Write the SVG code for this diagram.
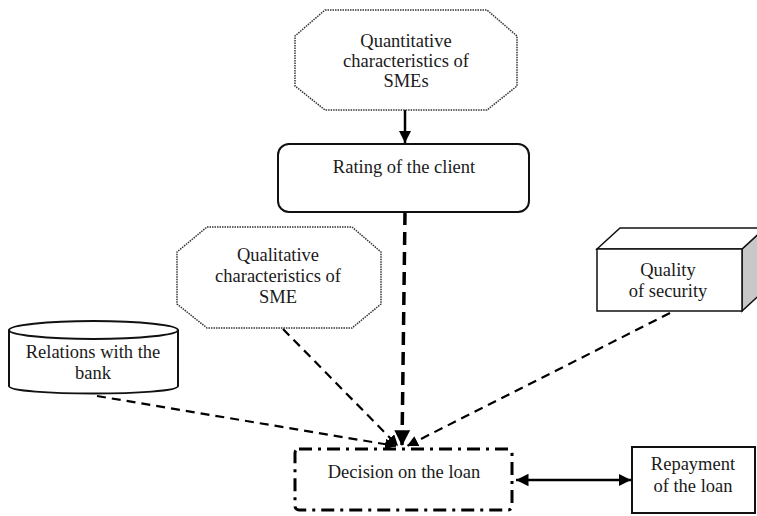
<svg xmlns="http://www.w3.org/2000/svg" width="757" height="516" viewBox="0 0 757 516">
<style>
text{font-family:"Liberation Serif","Times New Roman",serif;font-size:18.5px;fill:#1a1a1a;text-anchor:middle}
.oct{fill:#fff;stroke:#333;stroke-width:1.5;stroke-dasharray:1.5 1}
.box{fill:#fff;stroke:#111;stroke-width:2}
.dash{fill:none;stroke:#000;stroke-width:2.2;stroke-dasharray:9 6}
.thick{fill:none;stroke:#000;stroke-width:3.5;stroke-dasharray:13 7}
.solid{fill:none;stroke:#000;stroke-width:2.5}
</style>
<defs>
<marker id="ah" viewBox="0 0 10 10" refX="10" refY="5" markerWidth="5" markerHeight="5" markerUnits="strokeWidth" orient="auto-start-reverse">
<path d="M0,0 L10,5 L0,10 z" fill="#000"/>
</marker>
<marker id="ahs" viewBox="0 0 10 10" refX="10" refY="5" markerWidth="4.5" markerHeight="4.5" markerUnits="strokeWidth" orient="auto-start-reverse">
<path d="M0,0 L10,5 L0,10 z" fill="#000"/>
</marker>
</defs>
<rect width="757" height="516" fill="#fff"/>

<g id="connectors">
<line class="solid" x1="405" y1="110" x2="405" y2="143" marker-end="url(#ah)"/>
<line class="thick" x1="405" y1="212" x2="402" y2="446" marker-end="url(#ahs)"/>
<line class="dash" x1="97" y1="396" x2="396" y2="446" marker-end="url(#ah)"/>
<line class="dash" x1="283" y1="329" x2="398" y2="446" marker-end="url(#ah)"/>
<line class="dash" x1="670" y1="313" x2="407" y2="446" marker-end="url(#ah)"/>
<line class="solid" x1="516" y1="480" x2="631" y2="480" marker-start="url(#ah)" marker-end="url(#ah)"/>
</g>

<g id="quantitative">
<polygon class="oct" points="325,10 487,10 517,36 517,86 487,110 325,110 295,86 295,36"/>
<text x="406" y="47">Quantitative</text>
<text x="406" y="67">characteristics of</text>
<text x="406" y="87">SMEs</text>
</g>

<g id="rating">
<rect class="box" x="278" y="144" width="251" height="68" rx="11"/>
<text x="404" y="173">Rating of the client</text>
</g>

<g id="qualitative">
<polygon class="oct" points="207,227 352,227 381,252 381,304 352,328 207,328 177,304 177,252"/>
<text x="278" y="261">Qualitative</text>
<text x="278" y="282">characteristics of</text>
<text x="278" y="303">SME</text>
</g>

<g id="relations">
<path class="box" d="M9,330 L9,386 C9,396 178,396 178,386 L178,330"/>
<ellipse class="box" cx="93.5" cy="330" rx="84.5" ry="9"/>
<text x="93" y="358">Relations with the</text>
<text x="93" y="379">bank</text>
</g>

<g id="quality">
<polygon points="742,249 765,228 765,290 742,311" fill="#c8c8c8" stroke="#111" stroke-width="1.5"/>
<polygon points="597,249 620,228 765,228 742,249" fill="#fff" stroke="#111" stroke-width="1.5"/>
<rect x="597" y="249" width="145" height="62" fill="#fff" stroke="#111" stroke-width="1.5"/>
<text x="668" y="276">Quality</text>
<text x="668" y="297">of security</text>
</g>

<g id="decision">
<rect x="295" y="449" width="217" height="61" rx="4" fill="#fff" stroke="#000" stroke-width="3" stroke-dasharray="13 6 3 6"/>
<text x="404" y="478">Decision on the loan</text>
</g>

<g id="repayment">
<rect class="box" x="632" y="447" width="123" height="66"/>
<text x="693" y="470">Repayment</text>
<text x="693" y="492">of the loan</text>
</g>
</svg>
